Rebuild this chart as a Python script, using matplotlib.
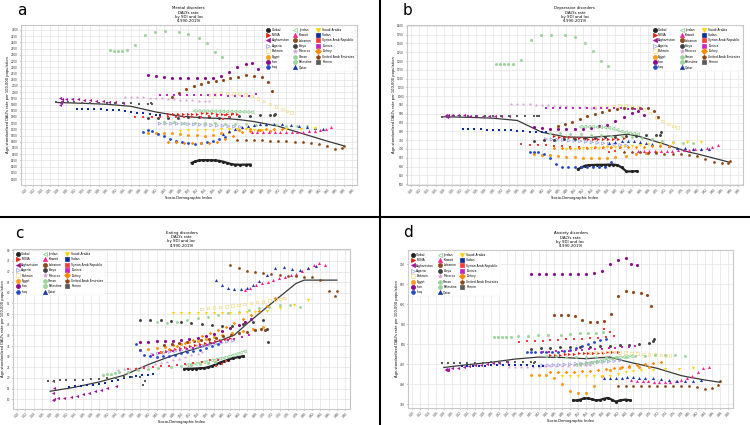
import matplotlib
matplotlib.use("Agg")
import matplotlib.pyplot as plt
from matplotlib.lines import Line2D

# ---------------- data ----------------
LOCATIONS = ["Global", "MENA", "Afghanistan", "Algeria", "Bahrain", "Egypt", "Iran", "Iraq",
             "Jordan", "Kuwait", "Lebanon", "Libya", "Morocco", "Oman", "Palestine", "Qatar",
             "Saudi Arabia", "Sudan", "Syrian Arab Republic", "Tunisia", "Turkey",
             "United Arab Emirates", "Yemen"]

SDI_GLOBAL = [0.508,0.517,0.526,0.535,0.545,0.555,0.565,0.575,0.585,0.595,0.605,0.615,0.627,0.640,0.652]
SDI_MENA = [0.450,0.462,0.474,0.486,0.498,0.510,0.522,0.534,0.546,0.558,0.570,0.582,0.594,0.606,0.620]
SDI_AFGHANISTAN = [0.186,0.190,0.188,0.186,0.190,0.200,0.215,0.230,0.245,0.260,0.275,0.290,0.305,0.320,0.340]
SDI_ALGERIA = [0.430,0.444,0.458,0.472,0.486,0.500,0.514,0.528,0.542,0.556,0.570,0.584,0.598,0.612,0.627]
SDI_BAHRAIN = [0.550,0.565,0.580,0.595,0.610,0.625,0.640,0.655,0.670,0.685,0.700,0.715,0.730,0.742,0.752]
SDI_EGYPT = [0.400,0.420,0.440,0.460,0.480,0.500,0.520,0.540,0.560,0.580,0.600,0.625,0.650,0.675,0.700]
SDI_IRAN = [0.400,0.420,0.440,0.460,0.480,0.500,0.520,0.540,0.560,0.580,0.600,0.620,0.640,0.655,0.670]
SDI_IRAQ = [0.390,0.400,0.410,0.425,0.440,0.455,0.470,0.485,0.500,0.515,0.530,0.545,0.560,0.575,0.590]
SDI_JORDAN = [0.515,0.525,0.535,0.545,0.555,0.565,0.575,0.585,0.595,0.605,0.615,0.625,0.635,0.645,0.655]
SDI_KUWAIT = [0.655,0.669,0.683,0.697,0.711,0.725,0.739,0.753,0.767,0.781,0.795,0.809,0.823,0.837,0.850]
SDI_LEBANON = [0.459,0.477,0.495,0.513,0.531,0.549,0.567,0.585,0.603,0.621,0.640,0.660,0.680,0.695,0.705]
SDI_LIBYA = [0.400,0.425,0.450,0.475,0.500,0.525,0.550,0.575,0.600,0.625,0.650,0.675,0.700,0.710,0.712]
SDI_MOROCCO = [0.345,0.360,0.375,0.390,0.405,0.420,0.435,0.450,0.465,0.480,0.495,0.510,0.525,0.540,0.550]
SDI_OMAN = [0.440,0.465,0.490,0.515,0.540,0.565,0.590,0.615,0.640,0.665,0.690,0.715,0.740,0.765,0.790]
SDI_PALESTINE = [0.308,0.318,0.328,0.338,0.349,0.369,0.394,0.418,0.443,0.476,0.500,0.525,0.545,0.565,0.582]
SDI_QATAR = [0.585,0.600,0.615,0.630,0.645,0.660,0.675,0.690,0.710,0.730,0.750,0.770,0.790,0.810,0.830]
SDI_SAUDI = [0.480,0.500,0.520,0.540,0.560,0.580,0.600,0.620,0.640,0.660,0.680,0.710,0.740,0.775,0.810]
SDI_SUDAN = [0.227,0.240,0.255,0.270,0.285,0.300,0.315,0.330,0.345,0.360,0.375,0.390,0.405,0.420,0.430]
SDI_SYRIA = [0.370,0.390,0.410,0.430,0.450,0.470,0.490,0.510,0.530,0.550,0.570,0.590,0.610,0.600,0.585]
SDI_TUNISIA = [0.430,0.447,0.464,0.480,0.497,0.514,0.530,0.547,0.564,0.580,0.597,0.614,0.630,0.648,0.665]
SDI_TURKEY = [0.450,0.470,0.490,0.510,0.530,0.550,0.570,0.590,0.610,0.630,0.650,0.670,0.690,0.710,0.730]
SDI_UAE = [0.620,0.640,0.660,0.680,0.700,0.720,0.740,0.760,0.780,0.800,0.820,0.840,0.860,0.875,0.880]
SDI_YEMEN = [0.175,0.190,0.205,0.220,0.240,0.260,0.280,0.300,0.320,0.340,0.360,0.380,0.400,0.412,0.408]

# (a) Mental disorders
MENTAL_GLOBAL = [1430,1442,1450,1452,1452,1451,1450,1447,1440,1430,1420,1416,1415,1416,1417]
MENTAL_MENA = [1822,1822,1823,1824,1825,1826,1827,1828,1828,1828,1827,1826,1825,1824,1822]
MENTAL_AFGHANISTAN = [1950,1930,1910,1900,1948,1948,1946,1944,1940,1936,1932,1928,1924,1918,1912]
MENTAL_ALGERIA = [1747,1747,1746,1745,1744,1742,1740,1738,1736,1733,1730,1728,1725,1722,1720]
MENTAL_BAHRAIN = [1976,1982,1987,1989,1989,1989,1980,1968,1950,1928,1905,1885,1865,1848,1836]
MENTAL_EGYPT = [1667,1668,1668,1667,1664,1658,1652,1648,1655,1668,1680,1692,1700,1698,1688]
MENTAL_IRAN = [2137,2128,2120,2116,2112,2110,2110,2112,2115,2130,2165,2200,2228,2235,2185]
MENTAL_IRAQ = [1680,1692,1690,1665,1645,1625,1608,1596,1588,1586,1590,1597,1607,1620,1640]
MENTAL_JORDAN = [1848,1848,1847,1847,1846,1846,1845,1845,1844,1844,1843,1842,1841,1840,1838]
MENTAL_KUWAIT = [1675,1675,1676,1676,1677,1677,1678,1679,1680,1682,1685,1688,1693,1705,1720]
MENTAL_LEBANON = [1962,1995,2025,2048,2065,2083,2090,2096,2110,2125,2137,2133,2120,2085,2005]
MENTAL_LIBYA = [1790,1795,1795,1793,1797,1800,1800,1795,1800,1808,1810,1812,1815,1818,1822]
MENTAL_MOROCCO = [1962,1962,1960,1958,1955,1952,1950,1947,1944,1940,1937,1934,1931,1929,1927]
MENTAL_OMAN = [1760,1758,1755,1752,1750,1748,1745,1742,1740,1738,1735,1732,1730,1728,1725]
MENTAL_PALESTINE = [2338,2332,2330,2332,2338,2379,2459,2486,2492,2486,2465,2432,2392,2325,2285]
MENTAL_QATAR = [1665,1690,1705,1715,1725,1733,1740,1745,1747,1745,1738,1730,1722,1712,1700]
MENTAL_SAUDI = [1690,1692,1694,1696,1698,1700,1702,1704,1700,1695,1693,1695,1700,1706,1712]
MENTAL_SUDAN = [1865,1864,1863,1862,1860,1858,1856,1852,1847,1840,1834,1828,1822,1816,1812]
MENTAL_SYRIA = [1801,1800,1800,1798,1797,1796,1796,1797,1800,1805,1810,1815,1822,1800,1780]
MENTAL_TUNISIA = [1980,1980,1978,1976,1976,1975,1975,1974,1973,1973,1972,1972,1971,1970,1985]
MENTAL_TURKEY = [1600,1595,1590,1588,1588,1590,1600,1620,1650,1675,1690,1695,1700,1702,1705]
MENTAL_UAE = [1618,1615,1613,1611,1610,1608,1605,1602,1598,1592,1580,1562,1540,1550,1567]
MENTAL_YEMEN = [1918,1918,1917,1917,1916,1916,1915,1915,1914,1912,1910,1908,1906,1905,1915]

# (b) Depressive disorders
DEPR_GLOBAL = [585,595,605,608,609,610,610,610,611,611,608,595,572,572,574]
DEPR_MENA = [772,770,768,766,764,762,760,759,758,757,757,757,758,758,760]
DEPR_AFGHANISTAN = [895,888,882,890,892,892,891,891,890,890,890,889,889,888,888]
DEPR_ALGERIA = [756,754,752,750,748,746,744,741,738,735,732,729,726,722,719]
DEPR_BAHRAIN = [936,939,942,945,947,946,942,935,925,905,878,860,843,830,822]
DEPR_EGYPT = [672,668,664,660,655,652,650,648,648,650,655,662,670,675,680]
DEPR_IRAN = [827,820,815,812,811,812,815,820,828,838,860,880,905,915,895]
DEPR_IRAQ = [684,685,684,670,650,612,600,598,598,598,598,598,598,600,625]
DEPR_JORDAN = [826,826,826,826,825,824,822,820,815,808,800,795,790,787,784]
DEPR_KUWAIT = [690,690,690,690,690,690,691,692,694,696,698,700,705,712,720]
DEPR_LEBANON = [830,842,855,870,885,900,912,922,930,934,934,934,932,915,880]
DEPR_LIBYA = [745,750,752,755,758,760,763,766,770,772,775,778,780,782,795]
DEPR_MOROCCO = [958,956,955,953,952,950,948,946,944,943,941,939,937,935,934]
DEPR_OMAN = [790,788,786,784,782,780,776,772,768,762,756,748,740,735,732]
DEPR_PALESTINE = [1185,1183,1182,1182,1182,1205,1320,1350,1350,1348,1337,1303,1258,1200,1170]
DEPR_QATAR = [735,740,745,748,745,740,735,730,722,715,708,703,700,700,702]
DEPR_SAUDI = [700,702,704,706,708,710,712,715,718,722,726,730,735,738,742]
DEPR_SUDAN = [812,812,811,811,810,809,808,806,805,803,800,798,796,795,794]
DEPR_SYRIA = [728,725,722,720,717,714,712,710,708,706,705,704,705,690,680]
DEPR_TUNISIA = [935,935,935,935,934,934,933,933,932,932,931,931,930,929,928]
DEPR_TURKEY = [705,706,707,708,708,709,710,711,712,712,713,713,714,714,715]
DEPR_UAE = [683,682,680,678,676,674,672,670,666,660,645,628,618,622,632]
DEPR_YEMEN = [884,885,886,887,887,888,888,888,888,889,889,889,889,889,885]

# (c) Eating disorders
EAT_GLOBAL = [24.2,24.3,24.3,24.4,24.5,24.6,25.0,25.6,26.4,27.2,27.9,28.6,29.3,29.8,30.2]
EAT_MENA = [32.0,32.5,33.0,33.5,34.0,34.5,35.0,35.5,36.0,36.5,37.0,37.5,38.0,38.5,39.0]
EAT_AFGHANISTAN = [18.3,15.2,12.8,9.7,10.0,10.3,10.6,11.0,11.5,12.2,12.9,13.7,14.5,15.2,16.0]
EAT_ALGERIA = [31.0,31.4,31.8,32.2,32.6,33.0,33.5,34.0,34.5,35.0,35.5,36.0,36.5,37.0,37.5]
EAT_BAHRAIN = [52.5,52.8,53.1,53.4,53.7,54.0,54.4,54.8,55.2,55.6,56.0,56.4,56.8,57.2,57.6]
EAT_EGYPT = [33.0,33.5,34.0,34.7,35.4,36.0,36.7,37.5,38.3,39.2,40.0,41.0,42.0,43.0,44.0]
EAT_IRAN = [37.0,37.1,37.2,37.3,37.5,37.8,38.3,39.0,39.8,40.8,42.0,43.5,45.0,46.3,47.5]
EAT_IRAQ = [36.0,33.0,31.0,30.2,30.0,30.2,30.5,31.0,31.5,32.0,32.5,33.0,34.0,35.0,36.0]
EAT_JORDAN = [26.0,26.3,26.6,27.0,27.4,27.8,28.2,28.6,29.0,29.4,30.0,30.6,31.2,31.8,32.5]
EAT_KUWAIT = [61.3,62.5,63.5,64.5,65.3,66.0,66.8,67.5,68.2,69.0,70.2,71.8,73.0,74.0,73.0]
EAT_LEBANON = [35.5,36.0,36.5,37.0,37.5,38.0,38.5,39.0,39.5,40.2,41.0,41.8,42.5,43.0,42.5]
EAT_LIBYA = [47.3,47.2,47.0,46.6,46.2,45.8,45.3,44.7,44.2,44.5,45.3,46.5,47.0,43.0,37.0]
EAT_MOROCCO = [23.7,24.0,24.4,24.8,25.3,25.8,26.3,26.8,27.5,28.2,29.0,29.8,30.6,31.4,32.2]
EAT_OMAN = [46.4,46.0,46.2,47.0,48.0,48.8,49.5,50.3,51.2,52.0,52.8,53.5,54.2,54.5,53.5]
EAT_PALESTINE = [21.5,21.8,22.0,22.3,22.6,23.0,23.5,24.0,24.5,25.0,25.5,26.0,26.5,27.0,27.5]
EAT_QATAR = [66.0,63.5,62.2,62.0,62.0,62.3,63.5,65.5,68.5,71.5,72.0,71.2,70.6,71.5,72.5]
EAT_SAUDI = [50.3,50.3,50.3,50.4,50.4,50.5,50.5,50.6,50.7,50.8,51.0,51.5,52.7,54.5,56.6]
EAT_SUDAN = [15.9,16.1,16.3,16.5,16.7,17.2,17.8,18.5,19.2,19.8,20.3,20.8,21.2,21.5,21.8]
EAT_SYRIA = [24.0,24.3,24.6,25.0,25.4,25.8,26.2,26.7,27.2,27.7,28.2,28.6,28.0,26.5,25.5]
EAT_TUNISIA = [31.0,31.5,32.0,32.5,33.0,33.5,34.0,34.8,35.5,36.3,37.0,37.8,38.5,39.2,40.0]
EAT_TURKEY = [32.0,33.5,35.0,36.5,38.0,39.5,41.0,42.5,44.0,45.8,47.7,49.6,51.5,54.0,57.5]
EAT_UAE = [73.0,71.5,70.5,69.8,69.2,68.7,68.3,68.0,67.8,67.6,67.5,66.0,61.0,58.3,61.0]
EAT_YEMEN = [18.6,18.7,18.8,18.9,19.0,19.2,19.4,19.6,19.8,20.0,20.3,20.5,20.6,18.5,16.8]

# (d) Anxiety disorders
ANX_GLOBAL = [360,360,362,365,365,363,360,361,364,366,362,357,360,362,360]
ANX_MENA = [472,473,474,475,476,476,477,477,478,478,479,479,480,480,481]
ANX_AFGHANISTAN = [438,436,435,437,438,440,441,443,445,447,449,450,452,453,455]
ANX_ALGERIA = [447,447,448,448,449,450,451,452,453,454,455,456,457,458,460]
ANX_BAHRAIN = [478,479,480,481,481,480,479,478,477,476,475,474,473,472,472]
ANX_EGYPT = [424,424,424,415,400,383,378,378,395,422,435,440,442,443,443]
ANX_IRAN = [674,674,674,674,674,674,675,676,677,682,700,710,716,700,697]
ANX_IRAQ = [481,481,481,480,480,480,481,483,486,490,495,500,505,510,514]
ANX_JORDAN = [448,449,450,452,454,456,458,460,462,464,466,467,468,469,470]
ANX_KUWAIT = [410,409,408,408,407,407,407,407,408,410,415,422,432,440,444]
ANX_LEBANON = [574,574,573,570,560,556,556,557,575,620,632,630,627,624,595]
ANX_LIBYA = [488,490,491,492,493,493,494,495,496,497,498,500,503,508,512]
ANX_MOROCCO = [442,442,443,443,444,444,445,445,446,446,446,447,447,447,447]
ANX_OMAN = [470,470,469,468,468,467,467,468,469,470,471,472,473,472,470]
ANX_PALESTINE = [518,518,518,519,519,520,521,522,523,524,525,527,528,529,530]
ANX_QATAR = [416,416,417,417,418,418,417,416,415,413,411,409,408,408,410]
ANX_SAUDI = [420,420,420,420,420,420,420,425,430,433,435,437,438,439,440]
ANX_SUDAN = [445,445,446,446,446,447,447,447,447,447,447,447,446,446,446]
ANX_SYRIA = [506,507,508,509,510,511,512,513,514,515,516,518,520,530,537]
ANX_TUNISIA = [480,481,482,483,484,485,486,487,488,489,490,491,492,494,496]
ANX_TURKEY = [430,430,431,432,433,434,436,438,440,443,445,447,450,453,455]
ANX_UAE = [397,397,397,397,397,397,397,397,396,395,393,389,390,398,408]
ANX_YEMEN = [453,453,454,454,454,454,454,455,455,455,455,455,455,456,452]

# expected values by SDI (solid line)
LINE_SDI = [0.18,0.24,0.30,0.36,0.42,0.48,0.54,0.60,0.63,0.66,0.72,0.78,0.80,0.84,0.88]
LINE_MENTAL = [1916,1910,1902,1885,1840,1806,1792,1785,1776,1763,1725,1665,1645,1605,1568]
LINE_DEPR = [883,880,875,862,795,768,766,776,784,770,727,682,672,648,624]
LINE_EAT = [13.7,15.6,18.1,21.2,26.3,30.6,34.0,37.9,40.2,45.4,55.0,64.4,66.0,66.0,66.0]
LINE_ANX = [442,449,455,463,468,467,464,468,460,453,440,422,418,411,405]

PANEL_TITLES = ["Mental disorders", "Depressive disorders", "Eating disorders", "Anxiety disorders"]
X_TICKS = [round(0.10 + 0.02 * i, 2) for i in range(41)]

# ---------------- assembly ----------------
SDI = dict(zip(LOCATIONS, [SDI_GLOBAL, SDI_MENA, SDI_AFGHANISTAN, SDI_ALGERIA, SDI_BAHRAIN, SDI_EGYPT,
                           SDI_IRAN, SDI_IRAQ, SDI_JORDAN, SDI_KUWAIT, SDI_LEBANON, SDI_LIBYA,
                           SDI_MOROCCO, SDI_OMAN, SDI_PALESTINE, SDI_QATAR, SDI_SAUDI, SDI_SUDAN,
                           SDI_SYRIA, SDI_TUNISIA, SDI_TURKEY, SDI_UAE, SDI_YEMEN]))
PANEL_Y = [
    [MENTAL_GLOBAL, MENTAL_MENA, MENTAL_AFGHANISTAN, MENTAL_ALGERIA, MENTAL_BAHRAIN, MENTAL_EGYPT,
     MENTAL_IRAN, MENTAL_IRAQ, MENTAL_JORDAN, MENTAL_KUWAIT, MENTAL_LEBANON, MENTAL_LIBYA,
     MENTAL_MOROCCO, MENTAL_OMAN, MENTAL_PALESTINE, MENTAL_QATAR, MENTAL_SAUDI, MENTAL_SUDAN,
     MENTAL_SYRIA, MENTAL_TUNISIA, MENTAL_TURKEY, MENTAL_UAE, MENTAL_YEMEN],
    [DEPR_GLOBAL, DEPR_MENA, DEPR_AFGHANISTAN, DEPR_ALGERIA, DEPR_BAHRAIN, DEPR_EGYPT,
     DEPR_IRAN, DEPR_IRAQ, DEPR_JORDAN, DEPR_KUWAIT, DEPR_LEBANON, DEPR_LIBYA,
     DEPR_MOROCCO, DEPR_OMAN, DEPR_PALESTINE, DEPR_QATAR, DEPR_SAUDI, DEPR_SUDAN,
     DEPR_SYRIA, DEPR_TUNISIA, DEPR_TURKEY, DEPR_UAE, DEPR_YEMEN],
    [EAT_GLOBAL, EAT_MENA, EAT_AFGHANISTAN, EAT_ALGERIA, EAT_BAHRAIN, EAT_EGYPT,
     EAT_IRAN, EAT_IRAQ, EAT_JORDAN, EAT_KUWAIT, EAT_LEBANON, EAT_LIBYA,
     EAT_MOROCCO, EAT_OMAN, EAT_PALESTINE, EAT_QATAR, EAT_SAUDI, EAT_SUDAN,
     EAT_SYRIA, EAT_TUNISIA, EAT_TURKEY, EAT_UAE, EAT_YEMEN],
    [ANX_GLOBAL, ANX_MENA, ANX_AFGHANISTAN, ANX_ALGERIA, ANX_BAHRAIN, ANX_EGYPT,
     ANX_IRAN, ANX_IRAQ, ANX_JORDAN, ANX_KUWAIT, ANX_LEBANON, ANX_LIBYA,
     ANX_MOROCCO, ANX_OMAN, ANX_PALESTINE, ANX_QATAR, ANX_SAUDI, ANX_SUDAN,
     ANX_SYRIA, ANX_TUNISIA, ANX_TURKEY, ANX_UAE, ANX_YEMEN],
]
PANEL_LINE = [LINE_MENTAL, LINE_DEPR, LINE_EAT, LINE_ANX]

STYLE = {
    "Global": ("o", "#222222", True),
    "MENA": (">", "#ee1c10", True),
    "Afghanistan": ("<", "#a3139c", True),
    "Algeria": (">", "#9b9be0", False),
    "Bahrain": ("s", "#f2dd8a", False),
    "Egypt": ("o", "#ff9c1e", True),
    "Iran": ("o", "#8c0a8c", True),
    "Iraq": ("H", "#2248c8", True),
    "Jordan": ("<", "#86cc86", False),
    "Kuwait": ("^", "#ff2090", True),
    "Lebanon": ("o", "#8e4a1c", True),
    "Libya": ("8", "#404040", True),
    "Morocco": ("*", "#d8a2d8", True),
    "Oman": ("h", "#98d498", True),
    "Palestine": ("o", "#9ed49e", True),
    "Qatar": ("^", "#1a38a8", True),
    "Saudi Arabia": ("v", "#ffd200", True),
    "Sudan": ("s", "#0c2c9c", True),
    "Syrian Arab Republic": ("s", "#ff3a3a", True),
    "Tunisia": ("s", "#c624c6", True),
    "Turkey": ("D", "#ff8a00", True),
    "United Arab Emirates": ("p", "#8b4513", True),
    "Yemen": ("s", "#5a5a5a", True),
}
MARKER_AREA = {"s": 3.2, "D": 3.2, "*": 7, "8": 5, "h": 5, "H": 5, "p": 5}

# ---------------- figure ----------------
fig = plt.figure(figsize=(7.5, 4.25), dpi=100)
fig.patch.set_facecolor("white")

RECTS = [
    (20.7 / 750, 1 - 185 / 425, 336 / 750, 160 / 425),
    (406.7 / 750, 1 - 185 / 425, 336.3 / 750, 160 / 425),
    (13 / 750, 1 - 408.7 / 425, 337 / 750, 159.4 / 425),
    (408 / 750, 1 - 408 / 425, 325 / 750, 158 / 425),
]
YLIMS = [(1252, 2540), (495, 1405), (5.5, 80.5), (341, 735)]
YTICKS = [list(range(1300, 2501, 50)), list(range(500, 1401, 50)),
          list(range(10, 81, 5)), list(range(350, 701, 50))]
LEG_LOC = ["upper right", "upper right", "upper left", "upper left"]
LETTERS = ["a", "b", "c", "d"]
LETTER_POS = [(17 / 750, 1 - 3 / 425), (403 / 750, 1 - 3 / 425),
              (15 / 750, 1 - 226 / 425), (403 / 750, 1 - 225 / 425)]

for p in range(4):
    ax = fig.add_axes(RECTS[p])
    ax.set_facecolor("white")
    ax.grid(True, color="#e0e0e0", lw=0.45)
    ax.set_axisbelow(True)
    for s in ax.spines.values():
        s.set_color("#c8c8c8")
        s.set_linewidth(0.8)

    ax.plot(LINE_SDI, PANEL_LINE[p], color="#3a3a3a", lw=0.9, zorder=3)

    handles = []
    for loc, ys in zip(LOCATIONS, PANEL_Y[p]):
        mk, col, filled = STYLE[loc]
        xs = SDI[loc]
        area = MARKER_AREA.get(mk, 5)
        if loc == "Global":
            ax.plot(xs, ys, color=col, lw=1.6, zorder=4)
        if filled:
            ax.scatter(xs, ys, s=area, marker=mk, color=col, linewidths=0, zorder=4)
        else:
            ax.scatter(xs, ys, s=area, marker=mk, facecolors="none", edgecolors=col,
                       linewidths=0.5, zorder=4)
        handles.append(Line2D([], [], ls="none", marker=mk, markersize=3.0,
                              markerfacecolor=col if filled else "none",
                              markeredgecolor=col, markeredgewidth=0.5, label=loc))

    ax.set_xlim(0.0895, 0.912)
    ax.set_ylim(*YLIMS[p])
    ax.set_xticks(X_TICKS)
    ax.set_xticklabels([f"{t:.2f}" for t in X_TICKS], rotation=45, fontsize=2.0)
    ax.set_yticks(YTICKS[p])
    ax.set_yticklabels([str(t) for t in YTICKS[p]], fontsize=2.0)
    ax.tick_params(length=1.0, width=0.4, pad=1, colors="#333333")
    ax.set_xlabel("Socio-Demographic Index", fontsize=2.6, labelpad=1)
    ax.set_ylabel("Age-standardized DALYs rate per 100,000 population", fontsize=2.6, labelpad=1)
    ax.set_title(f"{PANEL_TITLES[p]}\nDALYs rate\nby SDI and loc\n(1990-2019)",
                 fontsize=2.8, pad=2, linespacing=1.1)

    leg = ax.legend(handles=handles, loc=LEG_LOC[p], ncol=3, fontsize=2.2,
                    frameon=True, framealpha=0.9, edgecolor="#eeeeee",
                    labelspacing=0.45, columnspacing=1.2, handletextpad=0.6,
                    handlelength=1.2, borderpad=0.5, borderaxespad=0.4)
    leg.get_frame().set_linewidth(0.3)

    fig.text(LETTER_POS[p][0], LETTER_POS[p][1], LETTERS[p], fontsize=11,
             ha="left", va="top", color="black")

# separators
fig.add_artist(Line2D([380 / 750, 380 / 750], [0, 1], transform=fig.transFigure,
                      color="black", lw=1.5))
fig.add_artist(Line2D([0, 1], [1 - 217 / 425, 1 - 217 / 425], transform=fig.transFigure,
                      color="black", lw=1.5))

fig.savefig("out.png", dpi=100, facecolor="white")
